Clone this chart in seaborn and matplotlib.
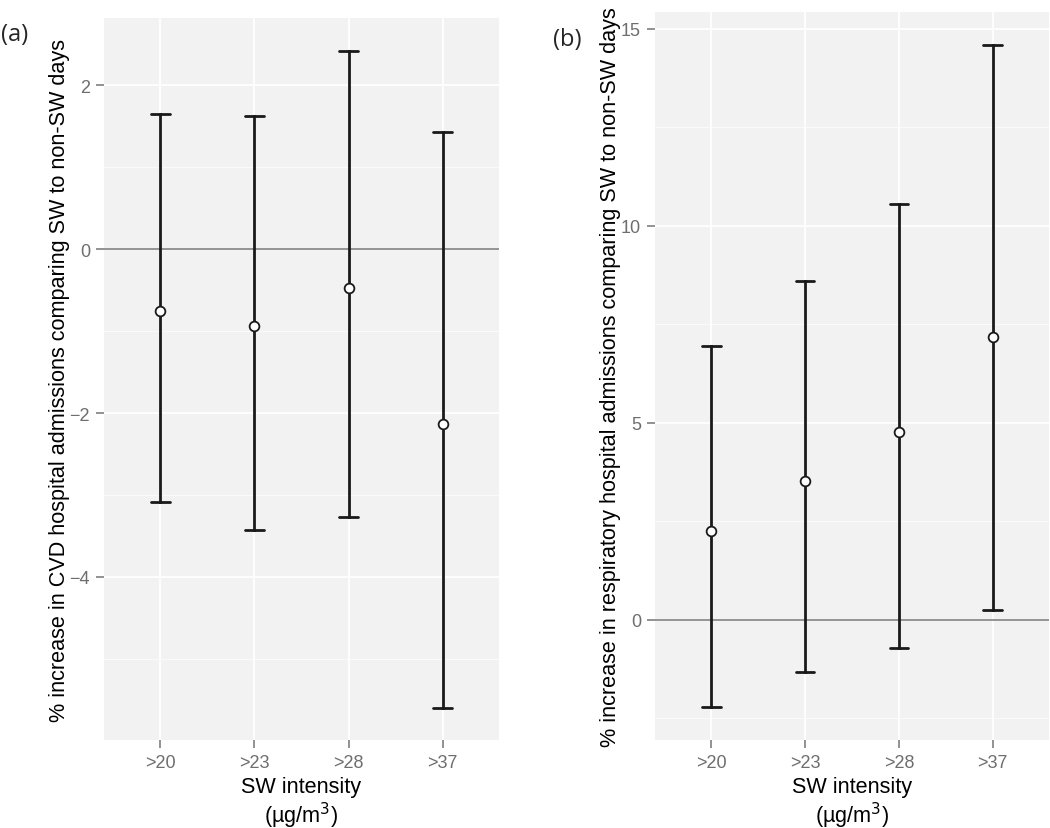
import pandas as pd
import numpy as np
import matplotlib
matplotlib.use('Agg')
from matplotlib import pyplot as plt
from matplotlib.ticker import MultipleLocator
import seaborn as sns

# SW intensity thresholds (ug/m3)
categories = ['>20', '>23', '>28', '>37']

# (a) CVD admissions: estimate and 95% CI
cvd_est = [-0.75, -0.94, -0.48, -2.13]
cvd_low = [-3.08, -3.43, -3.27, -5.60]
cvd_high = [1.65, 1.63, 2.42, 1.43]

# (b) respiratory admissions: estimate and 95% CI
resp_est = [2.26, 3.53, 4.77, 7.18]
resp_low = [-2.21, -1.32, -0.71, 0.25]
resp_high = [6.95, 8.60, 10.56, 14.59]


def long_table(est, low, high):
    # three rows per category so pointplot can use median + min/max as the interval
    rows = []
    for c, e, l, h in zip(categories, est, low, high):
        rows += [(c, l), (c, e), (c, h)]
    return pd.DataFrame(rows, columns=['SW', 'pct'])


sns.set_style('whitegrid', {
    'axes.facecolor': '#F2F2F2',
    'grid.color': 'white',
    'axes.edgecolor': '#F2F2F2',
    'xtick.bottom': True,
    'ytick.left': True,
})
plt.rcParams['font.family'] = ['Liberation Sans', 'DejaVu Sans']

fig = plt.figure(figsize=(10.5, 8.29), dpi=100)
W, H = 1050, 829
ax1 = fig.add_axes([104 / W, 1 - 741 / H, (499 - 104) / W, (741 - 19) / H])
ax2 = fig.add_axes([655 / W, 1 - 741 / H, (1049 - 655) / W, (741 - 13) / H])

panels = [
    (ax1, long_table(cvd_est, cvd_low, cvd_high),
     '% increase in CVD hospital admissions comparing SW to non-SW days',
     (-5.99, 2.82), 2, 1),
    (ax2, long_table(resp_est, resp_low, resp_high),
     '% increase in respiratory hospital admissions comparing SW to non-SW days',
     (-3.05, 15.43), 5, 2.5),
]

for ax, df, ylab, ylim, major, minor in panels:
    sns.pointplot(
        data=df, x='SW', y='pct', ax=ax,
        estimator='median', errorbar=lambda v: (v.min(), v.max()),
        capsize=0.2, linestyle='none', color='#1a1a1a',
        marker='o', markersize=7, markerfacecolor='white',
        markeredgecolor='#1a1a1a', markeredgewidth=1.3, zorder=5,
        err_kws={'linewidth': 2, 'color': '#1a1a1a', 'zorder': 4},
    )
    ax.axhline(0, color='#8c8c8c', lw=1.3, zorder=2)
    ax.set_xlim(-0.6, 3.6)
    ax.set_ylim(*ylim)
    ax.yaxis.set_major_locator(MultipleLocator(major))
    ax.yaxis.set_minor_locator(MultipleLocator(minor))
    ax.grid(True, which='major', color='white', lw=1.3)
    ax.grid(True, which='minor', color='white', lw=0.6, alpha=0.8)
    ax.set_axisbelow(True)
    for s in ax.spines.values():
        s.set_visible(False)
    ax.tick_params(axis='both', which='major', length=6, width=1.2,
                   color='#7f7f7f', labelcolor='#6e6e6e', labelsize=13, pad=4)
    ax.tick_params(axis='y', which='minor', length=0)
    ax.set_ylabel(ylab, fontsize=15.6, color='black', labelpad=0)
    ax.set_xlabel('SW intensity\n(µg/m$^3$)', fontsize=15.6, color='black',
                  labelpad=4, linespacing=1.1)

fig.text(1 / W, 1 - 35 / H, '(a)', fontsize=17, family=['Open Sans', 'DejaVu Sans'],
         va='center', ha='left')
fig.text(553 / W, 1 - 40 / H, '(b)', fontsize=17, family=['Open Sans', 'DejaVu Sans'],
         va='center', ha='left')

fig.savefig('out.png', dpi=100)
